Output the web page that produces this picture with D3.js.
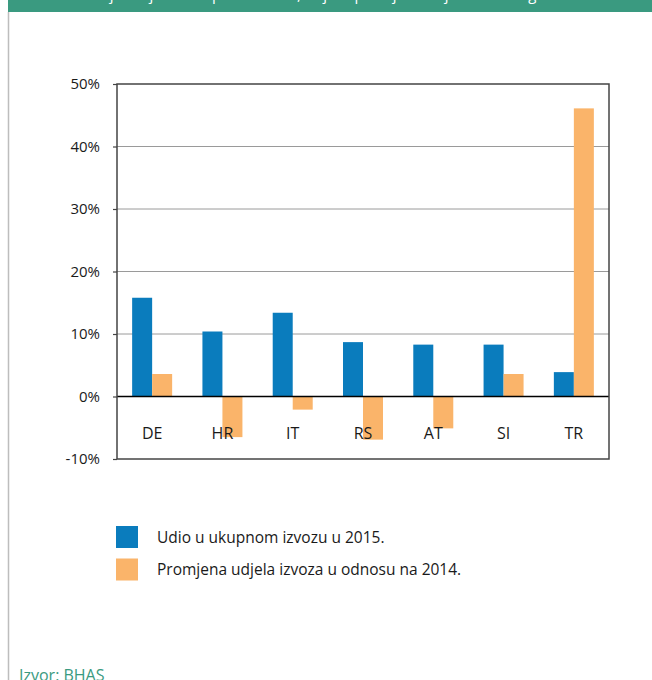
<!DOCTYPE html>
<html>
<head>
<meta charset="utf-8">
<script src="https://cdn.jsdelivr.net/npm/d3@7"></script>
<style>
  html, body { margin: 0; padding: 0; background: #fff; }
  svg { display: block; }
  text { font-family: "Open Sans", "Noto Sans", sans-serif; }
</style>
</head>
<body>
<svg id="chart" width="652" height="680"></svg>
<script>
// Country codes on the x axis
const countries = ["DE", "HR", "IT", "RS", "AT", "SI", "TR"];
// Share in total exports, 2015 (%)
const share2015 = [15.8, 10.4, 13.4, 8.7, 8.3, 8.3, 3.9];
// Change of export share relative to 2014 (%)
const change2014 = [3.6, -6.5, -2.1, -6.9, -5.1, 3.6, 46.1];
// Y axis ticks (%)
const yTicks = [-10, 0, 10, 20, 30, 40, 50];
// Series names for the legend
const seriesNames = ["Udio u ukupnom izvozu u 2015.", "Promjena udjela izvoza u odnosu na 2014."];
const seriesColors = ["#0a7cbd", "#fab46a"];

const svg = d3.select("#chart");

// Header band and frame
svg.append("rect").attr("x", 8).attr("y", 0).attr("width", 644).attr("height", 12).attr("fill", "#3a9a80");
svg.append("text").attr("x", 22).attr("y", 0).attr("fill", "#fff").attr("font-size", 15)
  .text("Grafikon: Najvažniji izvozni partneri BiH, udjeli i promjena udjela u 2015. godini");
svg.append("line").attr("x1", 8.5).attr("x2", 8.5).attr("y1", 12).attr("y2", 680)
  .attr("stroke", "#bdbdbd").attr("stroke-width", 1.5);

const plotL = 117, plotR = 609, plotT = 84, plotB = 459;

const x = d3.scaleBand().domain(countries).range([plotL, plotR]).paddingInner(0).paddingOuter(0);
const y = d3.scaleLinear().domain([-10, 50]).range([plotB, plotT]);
const barW = 20;

// Gridlines
svg.append("g").selectAll("line").data(yTicks.filter(t => t > 0 && t < 50)).join("line")
  .attr("x1", plotL).attr("x2", plotR).attr("y1", d => y(d)).attr("y2", d => y(d))
  .attr("stroke", "#9a9a9a").attr("stroke-width", 1);

// Bars
const groups = svg.append("g").selectAll("g").data(countries).join("g")
  .attr("transform", d => `translate(${x(d) + x.bandwidth() / 2},0)`);
groups.append("rect")
  .attr("x", -barW).attr("width", barW)
  .attr("y", (d, i) => y(Math.max(0, share2015[i])))
  .attr("height", (d, i) => Math.abs(y(share2015[i]) - y(0)))
  .attr("fill", seriesColors[0]);
groups.append("rect")
  .attr("x", 0).attr("width", barW)
  .attr("y", (d, i) => y(Math.max(0, change2014[i])))
  .attr("height", (d, i) => Math.abs(y(change2014[i]) - y(0)))
  .attr("fill", seriesColors[1]);

// Zero line
svg.append("line").attr("x1", plotL).attr("x2", plotR).attr("y1", y(0)).attr("y2", y(0))
  .attr("stroke", "#000").attr("stroke-width", 1.3);

// Plot frame
svg.append("rect").attr("x", plotL).attr("y", plotT).attr("width", plotR - plotL).attr("height", plotB - plotT)
  .attr("fill", "none").attr("stroke", "#444").attr("stroke-width", 1.5);

// Y axis with tick marks and labels
const yAxis = d3.axisLeft(y).tickValues(yTicks).tickSize(4).tickPadding(13).tickFormat(d => d + "%");
const ya = svg.append("g").attr("transform", `translate(${plotL},0)`).call(yAxis);
ya.select(".domain").remove();
ya.selectAll(".tick line").attr("stroke", "#444").attr("stroke-width", 1.2);
ya.selectAll(".tick text").attr("font-size", 15).attr("fill", "#1a1a1a")
  .attr("font-family", "'Open Sans', sans-serif");

// Category labels
svg.append("g").selectAll("text").data(countries).join("text")
  .attr("x", d => x(d) + x.bandwidth() / 2).attr("y", 439)
  .attr("text-anchor", "middle").attr("font-size", 16).attr("fill", "#1a1a1a")
  .text(d => d);

// Legend
const legend = svg.append("g").selectAll("g").data(seriesNames).join("g")
  .attr("transform", (d, i) => `translate(116,${526 + i * 32.5})`);
legend.append("rect").attr("width", 22).attr("height", 22).attr("fill", (d, i) => seriesColors[i]);
legend.append("text").attr("x", 41).attr("y", 16.5).attr("font-size", 15.5).attr("fill", "#1a1a1a").text(d => d);

// Source note
svg.append("text").attr("x", 19).attr("y", 681).attr("font-size", 16).attr("fill", "#3a9a80").text("Izvor: BHAS");
</script>
</body>
</html>
